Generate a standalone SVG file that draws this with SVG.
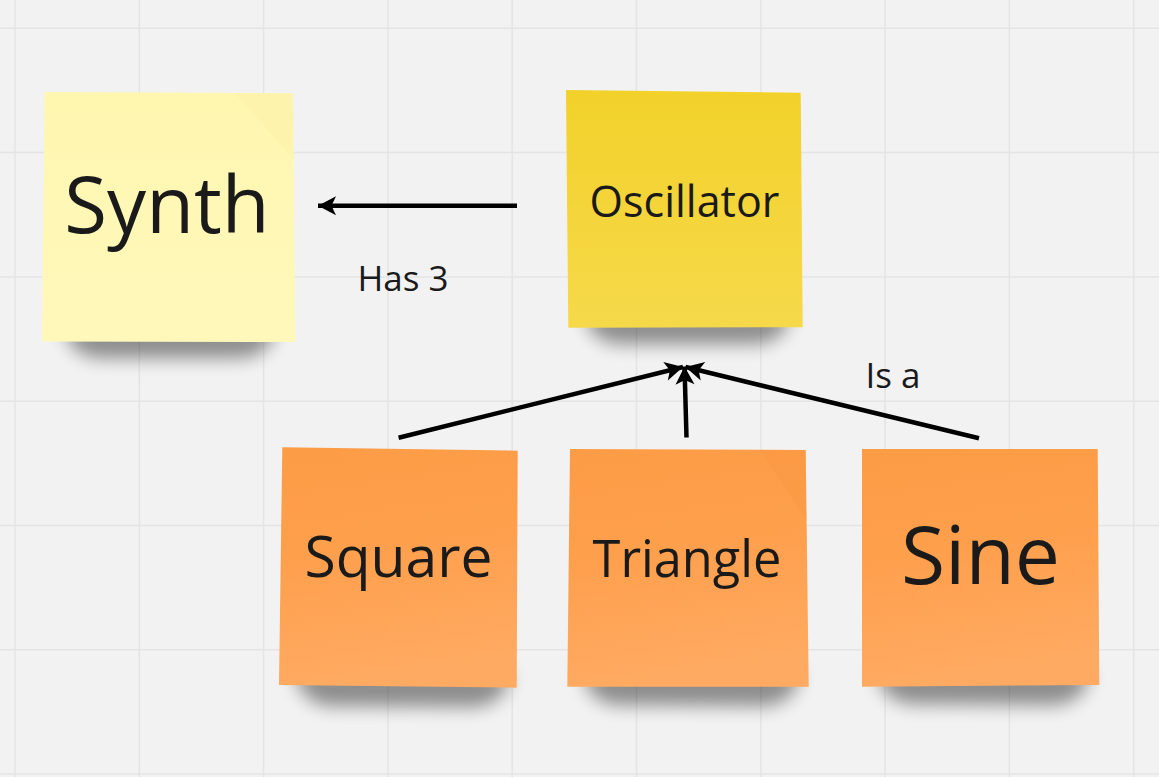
<svg xmlns="http://www.w3.org/2000/svg" width="1159" height="777" viewBox="0 0 1159 777">
<defs>
<style>
.grid line{stroke:#e4e4e4;stroke-width:1.5}
.lbl{font-family:"Open Sans","Liberation Sans",sans-serif;fill:#1a1a1a;text-anchor:middle}
.conn{stroke:#000;stroke-width:4.5;fill:none}
.shadow{fill:#000;opacity:0.42;filter:url(#blur)}
</style>
<filter id="blur" x="-30%" y="-100%" width="160%" height="300%"><feGaussianBlur stdDeviation="9"/></filter>
<linearGradient id="gYellowL" x1="0" y1="0" x2="0" y2="1"><stop offset="0" stop-color="#fff6b0"/><stop offset="1" stop-color="#fff8ba"/></linearGradient>
<linearGradient id="gYellow" x1="0" y1="0" x2="0" y2="1"><stop offset="0" stop-color="#f2d12a"/><stop offset="1" stop-color="#f6d94a"/></linearGradient>
<linearGradient id="gOrange" x1="0" y1="0" x2="0.15" y2="1"><stop offset="0" stop-color="#fd9c46"/><stop offset="0.45" stop-color="#fe9f4c"/><stop offset="1" stop-color="#ffaa62"/></linearGradient>
<marker id="ah" markerUnits="userSpaceOnUse" markerWidth="22" markerHeight="22" viewBox="0 0 22 22" refX="19" refY="11" orient="auto">
<path d="M19,11 L1,1.5 L5.5,11 L1,20.5 Z" fill="#000"/>
</marker>
</defs>
<rect width="1159" height="777" fill="#f2f2f2"/>
<g class="grid">
<line x1="15" y1="0" x2="15" y2="777"/><line x1="139.3" y1="0" x2="139.3" y2="777"/><line x1="263.6" y1="0" x2="263.6" y2="777"/><line x1="388" y1="0" x2="388" y2="777"/><line x1="512.2" y1="0" x2="512.2" y2="777"/><line x1="636.5" y1="0" x2="636.5" y2="777"/><line x1="760.8" y1="0" x2="760.8" y2="777"/><line x1="885.1" y1="0" x2="885.1" y2="777"/><line x1="1009.4" y1="0" x2="1009.4" y2="777"/><line x1="1133.7" y1="0" x2="1133.7" y2="777"/>
<line x1="0" y1="28.3" x2="1159" y2="28.3"/><line x1="0" y1="152.6" x2="1159" y2="152.6"/><line x1="0" y1="276.9" x2="1159" y2="276.9"/><line x1="0" y1="401.2" x2="1159" y2="401.2"/><line x1="0" y1="525.5" x2="1159" y2="525.5"/><line x1="0" y1="649.8" x2="1159" y2="649.8"/><line x1="0" y1="774.1" x2="1159" y2="774.1"/>
</g>
<g id="node-synth">
<path class="shadow" d="M65,325 L275,326 Q273,354 242,358 L98,358 Q67,354 65,325 Z"/>
<polygon points="44.7,92 293,93.3 295.5,342 42,341.5" fill="url(#gYellowL)"/>
<polygon points="235,93 293,93.3 293.6,160" fill="#f7ec9e" opacity="0.25"/>
<text class="lbl" x="167" y="233" font-size="78">Synth</text>
</g>
<g id="node-oscillator">
<path class="shadow" d="M585,311 L790,312 Q788,340 757,344 L618,344 Q587,340 585,311 Z"/>
<polygon points="566,90 800.7,92.7 802.7,327.3 568.3,327.7" fill="url(#gYellow)"/>
<text class="lbl" x="684.5" y="216.7" font-size="43">Oscillator</text>
</g>
<g id="node-square">
<path class="shadow" d="M295,670 L510,672 Q508,702 476,707 L328,706 Q297,700 295,670 Z"/>
<polygon points="282.3,447.3 517.7,450.7 516.7,687.7 279,685" fill="url(#gOrange)"/>
<text class="lbl" x="398.5" y="576.7" font-size="57">Square</text>
</g>
<g id="node-triangle">
<path class="shadow" d="M583,670 L800,671 Q798,701 766,706 L616,705 Q585,700 583,670 Z"/>
<polygon points="570,449 805.7,450 808.7,686.7 567.3,686.7" fill="url(#gOrange)"/>
<polygon points="760,450 805.7,450 806.2,520" fill="#f7953e" opacity="0.3"/>
<text class="lbl" x="687" y="577.3" font-size="50.5">Triangle</text>
</g>
<g id="node-sine">
<path class="shadow" d="M877,669 L1090,670 Q1088,700 1056,705 L910,704 Q879,699 877,669 Z"/>
<polygon points="862,449 1097.7,449 1099.3,685 862,686.7" fill="url(#gOrange)"/>
<text class="lbl" x="980.5" y="584" font-size="80.5">Sine</text>
</g>
<g id="connectors">
<path class="conn" d="M517,205.7 L318,205.7" marker-end="url(#ah)"/>
<path class="conn" d="M398.6,437.7 L683,367" marker-end="url(#ah)"/>
<path class="conn" d="M686.5,437.5 L684.5,366.5" marker-end="url(#ah)"/>
<path class="conn" d="M979,438.3 L685.5,367" marker-end="url(#ah)"/>
<text class="lbl" x="403" y="291" font-size="35">Has 3</text>
<text class="lbl" x="893" y="387.7" font-size="35">Is a</text>
</g>
</svg>
